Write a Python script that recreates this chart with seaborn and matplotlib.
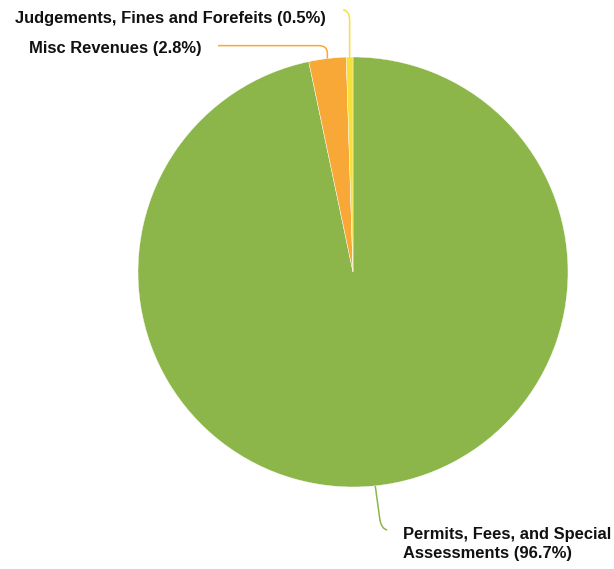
import numpy as np
import matplotlib
matplotlib.use("Agg")
import matplotlib.pyplot as plt
from matplotlib.path import Path
from matplotlib.patches import PathPatch
import seaborn as sns

categories = ["Permits, Fees, and Special\nAssessments", "Misc Revenues", "Judgements, Fines and Forefeits"]
shares = [96.7, 2.8, 0.5]
colors = ["#8cb64a", "#f8a836", "#f6e03a"]

sns.set_theme(style="white")
plt.rcParams["font.family"] = ["Liberation Sans", "DejaVu Sans"]

fig = plt.figure(figsize=(6.14, 5.69), dpi=100)
W, H = 614, 569
cx, cy, r = 353, 272, 215
ax = fig.add_axes([(cx - r) / W, (H - cy - r) / H, 2 * r / W, 2 * r / H])
wedges, _ = ax.pie(shares, colors=colors, startangle=90, counterclock=False,
                   wedgeprops=dict(edgecolor="white", linewidth=0.3))
ax.set_xlim(-1, 1)
ax.set_ylim(-1, 1)
ax.set_aspect("auto")
ax.axis("off")


def mid_point(w):
    a = np.deg2rad((w.theta1 + w.theta2) / 2)
    return np.cos(a), np.sin(a)


def leader(points, color):
    # straight run, then a rounded bend into the label arm
    verts = [points[0], points[1], points[2], points[3]]
    codes = [Path.MOVETO, Path.LINETO, Path.CURVE3, Path.CURVE3]
    if len(points) > 4:
        verts.append(points[4])
        codes.append(Path.LINETO)
    ax.add_patch(PathPatch(Path(verts, codes), fill=False, edgecolor=color,
                           linewidth=1.1, clip_on=False))


txt = dict(fontsize=11.9, fontweight="bold", color="#111111", clip_on=False)

# Permits, Fees, and Special Assessments
x0, y0 = mid_point(wedges[0])
leader([(x0, y0), (x0 + 0.022, y0 - 0.16), (x0 + 0.03, y0 - 0.2), (x0 + 0.055, y0 - 0.205)], colors[0])
ax.text(x0 + 0.13, y0 - 0.272, f"{categories[0]} ({shares[0]}%)", ha="left", va="center",
        linespacing=1.32, **txt)

# Misc Revenues
x1, y1 = mid_point(wedges[1])
leader([(x1, y1), (x1, y1 + 0.025), (x1, y1 + 0.06), (x1 - 0.04, y1 + 0.06), (-0.628, y1 + 0.06)], colors[1])
ax.text(-0.705, y1 + 0.045, f"{categories[1]} ({shares[1]}%)", ha="right", va="center", **txt)

# Judgements, Fines and Forefeits
x2, y2 = mid_point(wedges[2])
leader([(x2, y2), (x2, y2 + 0.17), (x2, y2 + 0.215), (x2 - 0.03, y2 + 0.22)], colors[2])
ax.text(-0.125, y2 + 0.18, f"{categories[2]} ({shares[2]}%)", ha="right", va="center", **txt)

fig.savefig("out.png", dpi=100)
